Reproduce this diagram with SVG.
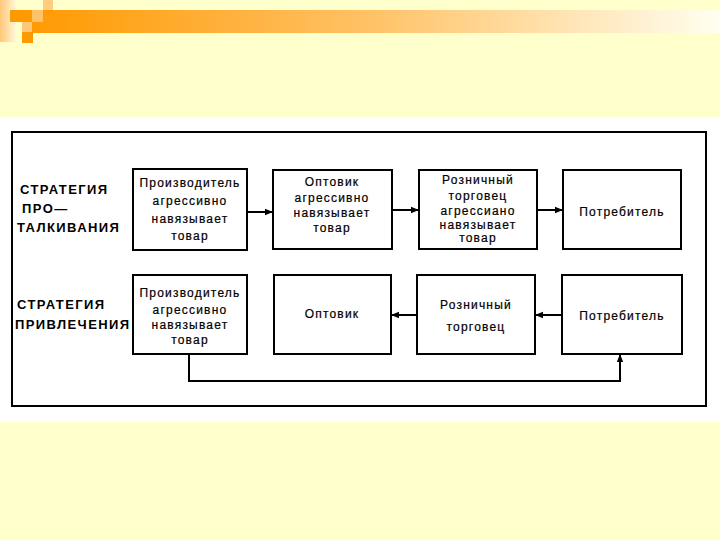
<svg xmlns="http://www.w3.org/2000/svg" width="720" height="540" viewBox="0 0 720 540">
<defs>
<linearGradient id="bar" x1="0" y1="0" x2="1" y2="0">
<stop offset="0" stop-color="#FF9900"/>
<stop offset="0.5" stop-color="#FFC266"/>
<stop offset="1" stop-color="#FFFFF0"/>
</linearGradient>
<linearGradient id="strip" x1="0" y1="0" x2="1" y2="0">
<stop offset="0" stop-color="#FFC878"/>
<stop offset="1" stop-color="#FFF8D8"/>
</linearGradient>
<marker id="ah" viewBox="0 0 10 10" refX="10" refY="5" markerWidth="12" markerHeight="8" markerUnits="userSpaceOnUse" orient="auto">
<path d="M0,1 L10,5 L0,9 Z" fill="#000"/>
</marker>
<style>
.box{fill:#fff;stroke:#000;stroke-width:2}
.t{font-family:"Liberation Sans",Arial,sans-serif;font-size:12px;fill:#000;text-anchor:middle;letter-spacing:1.2px;stroke:#000;stroke-width:0.2px}
.lab{font-family:"Liberation Sans",Arial,sans-serif;font-size:13px;font-weight:bold;fill:#000;letter-spacing:1.4px}
.c{fill:none;stroke:#000;stroke-width:2}
</style>
</defs>
<rect x="0" y="0" width="720" height="540" fill="#FFFFCC"/>
<g id="banner">
<rect x="22" y="10" width="698" height="23" fill="url(#bar)"/>
<rect x="0" y="0" width="16" height="42" fill="url(#strip)"/>
<rect x="10" y="10" width="12" height="12" fill="#FF9900"/>
<rect x="32" y="10" width="11" height="12" fill="#FFC266"/>
<rect x="43" y="0" width="10" height="10" fill="#FFCC80"/>
<rect x="22" y="22" width="10" height="10" fill="#FFC878"/>
<rect x="22" y="32" width="11" height="11" fill="#FF9900"/>
</g>
<rect x="0" y="117" width="720" height="305" fill="#fff"/>
<rect x="12" y="132" width="694" height="274" fill="none" stroke="#000" stroke-width="2"/>
<g id="labels">
<text class="lab" x="20" y="194">СТРАТЕГИЯ</text>
<text class="lab" x="22" y="213">ПРО—</text>
<text class="lab" x="17" y="232">ТАЛКИВАНИЯ</text>
<text class="lab" x="17" y="309">СТРАТЕГИЯ</text>
<text class="lab" x="15" y="329">ПРИВЛЕЧЕНИЯ</text>
</g>
<g id="p1">
<rect class="box" x="133" y="169" width="114" height="81"/>
<text class="t" x="190" y="187">Производитель</text>
<text class="t" x="190" y="205">агрессивно</text>
<text class="t" x="190" y="223">навязывает</text>
<text class="t" x="190" y="240">товар</text>
</g>
<g id="w1">
<rect class="box" x="273" y="170" width="119" height="79"/>
<text class="t" x="332" y="186">Оптовик</text>
<text class="t" x="332" y="202">агрессивно</text>
<text class="t" x="332" y="217">навязывает</text>
<text class="t" x="332" y="232">товар</text>
</g>
<g id="r1">
<rect class="box" x="419" y="170" width="118" height="79"/>
<text class="t" x="478" y="184">Розничный</text>
<text class="t" x="478" y="200">торговец</text>
<text class="t" x="478" y="215">агрессиано</text>
<text class="t" x="478" y="229">навязывает</text>
<text class="t" x="478" y="242">товар</text>
</g>
<g id="c1">
<rect class="box" x="563" y="170" width="118" height="79"/>
<text class="t" x="622" y="216">Потребитель</text>
</g>
<g id="p2">
<rect class="box" x="133" y="275" width="114" height="79"/>
<text class="t" x="190" y="297">Производитель</text>
<text class="t" x="190" y="314">агрессивно</text>
<text class="t" x="190" y="329">навязывает</text>
<text class="t" x="190" y="344">товар</text>
</g>
<g id="w2">
<rect class="box" x="274" y="275" width="117" height="79"/>
<text class="t" x="332" y="318">Оптовик</text>
</g>
<g id="r2">
<rect class="box" x="417" y="275" width="118" height="79"/>
<text class="t" x="476" y="309">Розничный</text>
<text class="t" x="476" y="331">торговец</text>
</g>
<g id="c2">
<rect class="box" x="562" y="275" width="120" height="79"/>
<text class="t" x="622" y="320">Потребитель</text>
</g>
<g id="connectors">
<line class="c" x1="247" y1="212" x2="273" y2="212" marker-end="url(#ah)"/>
<line class="c" x1="392" y1="210" x2="419" y2="210" marker-end="url(#ah)"/>
<line class="c" x1="537" y1="210" x2="563" y2="210" marker-end="url(#ah)"/>
<line class="c" x1="417" y1="315" x2="391" y2="315" marker-end="url(#ah)"/>
<line class="c" x1="562" y1="315" x2="535" y2="315" marker-end="url(#ah)"/>
<polyline class="c" points="189,354 189,381 620,381 620,354" marker-end="url(#ah)"/>
</g>
</svg>
